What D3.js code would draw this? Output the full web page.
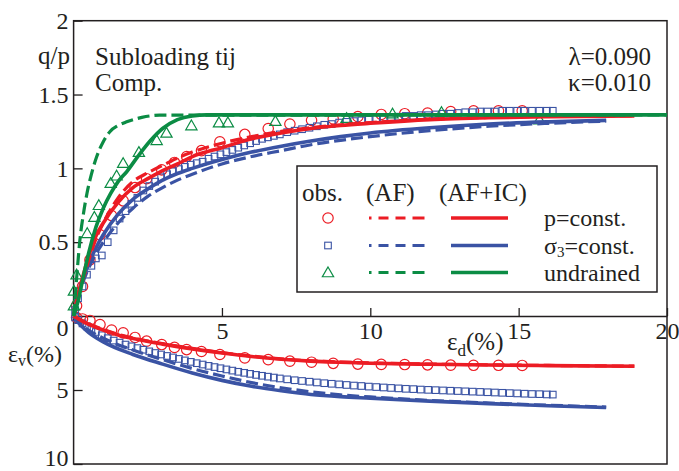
<!DOCTYPE html>
<html><head><meta charset="utf-8">
<script src="https://cdn.jsdelivr.net/npm/d3@7"></script>
<style>
body{margin:0;background:#fff}
svg{display:block}
svg text{fill:#231f20}
</style>
</head><body>
<svg id="c" width="679" height="471"></svg>
<script>
// ---------- tick labels ----------
const xTicks = [5, 10, 15, 20];
const qTicks = [0.5, 1, 1.5, 2];
const evTicks = [0, 5, 10];

// ---------- upper panel: q/p vs eps_d (%) ----------
const pConstAF_q   = [[0,0],[0.1,0.09],[0.25,0.2],[0.5,0.37],[0.75,0.52],[1,0.63],[1.5,0.8],[2,0.91],[2.5,0.97],[3,1.02],[3.5,1.07],[4,1.11],[5,1.17],[6,1.215],[7,1.25],[8,1.275],[9,1.295],[10,1.31],[12,1.333],[14,1.345],[16,1.352],[18.9,1.356]];
const pConstAFIC_q = [[0,0],[0.1,0.1],[0.25,0.22],[0.5,0.4],[0.75,0.54],[1,0.63],[1.5,0.77],[2,0.87],[2.5,0.93],[3,0.985],[3.5,1.03],[4,1.08],[5,1.14],[6,1.2],[7,1.24],[8,1.27],[9,1.29],[10,1.305],[12,1.33],[14,1.343],[16,1.35],[18.9,1.355]];
const s3ConstAF_q   = [[0,0],[0.1,0.09],[0.25,0.19],[0.5,0.32],[0.75,0.42],[1,0.5],[1.5,0.63],[2,0.73],[2.5,0.81],[3,0.87],[3.5,0.92],[4,0.96],[5,1.03],[6,1.08],[7,1.12],[8,1.16],[9,1.19],[10,1.215],[12,1.255],[14,1.285],[16,1.305],[17.95,1.32]];
const s3ConstAFIC_q = [[0,0],[0.1,0.1],[0.25,0.21],[0.5,0.35],[0.75,0.46],[1,0.55],[1.5,0.69],[2,0.79],[2.5,0.86],[3,0.92],[3.5,0.965],[4,1.0],[5,1.06],[6,1.11],[7,1.15],[8,1.185],[9,1.215],[10,1.24],[12,1.275],[14,1.3],[16,1.315],[17.95,1.325]];
const undrAF_q   = [[0,0],[0.05,0.12],[0.1,0.25],[0.21,0.51],[0.33,0.69],[0.45,0.83],[0.55,0.92],[0.78,1.08],[1,1.18],[1.23,1.25],[1.5,1.29],[1.79,1.315],[2.3,1.345],[2.9,1.36],[20,1.362]];
const undrAFIC_q = [[0,0],[0.15,0.1],[0.3,0.24],[0.5,0.42],[0.75,0.6],[1,0.73],[1.25,0.83],[1.5,0.91],[1.8,0.98],[2.2,1.09],[2.6,1.19],[3,1.27],[3.5,1.33],[4,1.355],[4.5,1.362],[20,1.362]];

// ---------- lower panel: eps_v (%) vs eps_d (%) ----------
const pConstAF_ev   = [[0,0],[0.1,0.11],[0.25,0.28],[0.5,0.52],[1,0.92],[1.5,1.24],[2,1.49],[3,1.87],[4,2.19],[5,2.47],[6,2.71],[7,2.9],[8,3.03],[9,3.11],[10,3.17],[12,3.25],[14,3.3],[16,3.34],[18.9,3.39]];
const pConstAFIC_ev = [[0,0],[0.1,0.12],[0.25,0.3],[0.5,0.55],[1,0.95],[1.5,1.28],[2,1.52],[3,1.9],[4,2.22],[5,2.5],[6,2.74],[7,2.92],[8,3.05],[9,3.13],[10,3.19],[12,3.26],[14,3.31],[16,3.35],[18.9,3.4]];
const s3ConstAF_ev   = [[0,0],[0.1,0.25],[0.25,0.55],[0.5,0.95],[1,1.5],[2,2.3],[3,2.95],[4,3.55],[5,4.05],[6,4.5],[7,4.85],[8,5.12],[9,5.33],[10,5.47],[12,5.7],[14,5.88],[16,6.03],[17.95,6.15]];
const s3ConstAFIC_ev = [[0,0],[0.1,0.3],[0.25,0.65],[0.5,1.1],[1,1.75],[2,2.6],[3,3.25],[4,3.85],[5,4.35],[6,4.75],[7,5.05],[8,5.3],[9,5.45],[10,5.55],[12,5.75],[14,5.92],[16,6.06],[17.95,6.18]];

// ---------- observations ----------
const obsP_ed = [0.1,0.3,0.55,0.89,1.28,1.67,2.07,2.46,2.97,3.4,3.81,4.31,4.93,5.77,6.56,7.29,8.02,8.75,9.58,10.37,11.16,11.93,12.71,13.48,14.32,15.12];
const obsP_q  = [0.07,0.2,0.38,0.55,0.68,0.78,0.87,0.93,0.99,1.04,1.08,1.12,1.18,1.23,1.27,1.3,1.325,1.335,1.35,1.365,1.37,1.375,1.385,1.39,1.39,1.39];
const obsP_ev = [0.1,0.2,0.3,0.58,0.95,1.14,1.45,1.7,1.93,2.12,2.27,2.4,2.6,2.83,2.95,3.05,3.12,3.2,3.25,3.27,3.28,3.3,3.32,3.33,3.33,3.34];

const obsS_ed = [0.05,0.15,0.3,0.45,0.6,0.75,0.95,1.15,1.35,1.55,1.75,1.95,2.15,2.35,2.55,2.75,2.95,3.15,3.35,3.55,3.75,3.95,4.15,4.35,4.55,4.75,4.95,5.15,5.35,5.55,5.75,5.95,6.15,6.35,6.55,6.75,6.95,7.2,7.45,7.7,7.95,8.2,8.45,8.7,8.95,9.2,9.45,9.7,9.95,10.2,10.45,10.7,10.95,11.2,11.45,11.7,11.95,12.2,12.45,12.7,12.95,13.2,13.45,13.7,13.95,14.2,14.45,14.7,14.95,15.2,15.45,15.7,15.95,16.15];
const obsS_q  = [0.04,0.12,0.2,0.28,0.34,0.39,0.41,0.5,0.58,0.66,0.71,0.76,0.8,0.85,0.88,0.91,0.94,0.96,0.98,0.995,1.01,1.025,1.035,1.045,1.065,1.08,1.095,1.11,1.125,1.14,1.155,1.17,1.185,1.2,1.21,1.22,1.23,1.245,1.255,1.265,1.275,1.285,1.295,1.3,1.31,1.315,1.32,1.325,1.33,1.335,1.34,1.345,1.35,1.355,1.355,1.36,1.36,1.365,1.37,1.37,1.375,1.38,1.38,1.385,1.385,1.385,1.39,1.39,1.39,1.39,1.39,1.39,1.39,1.39];
const obsS_ev = [0.1,0.28,0.5,0.7,0.9,1.08,1.3,1.5,1.66,1.8,1.93,2.05,2.17,2.28,2.39,2.5,2.6,2.7,2.8,2.9,3.0,3.1,3.19,3.28,3.37,3.45,3.53,3.61,3.69,3.77,3.84,3.91,3.98,4.04,4.1,4.16,4.22,4.28,4.34,4.39,4.44,4.49,4.54,4.58,4.62,4.66,4.7,4.73,4.77,4.8,4.83,4.86,4.89,4.92,4.94,4.97,4.99,5.01,5.03,5.05,5.07,5.09,5.11,5.13,5.15,5.17,5.19,5.21,5.23,5.25,5.27,5.28,5.3,5.31];

const obsU_ed = [0.01,0.01,0.1,0.46,0.7,0.85,1.25,1.45,1.67,2.2,2.8,3.13,3.97,4.9,5.2,6.8,9.2,10.75,12.4,15.7];
const obsU_q  = [0.07,0.17,0.28,0.56,0.67,0.75,0.9,0.95,1.035,1.11,1.19,1.24,1.29,1.31,1.31,1.32,1.34,1.37,1.38,1.33];

// ---------- colours ----------
const RED = "#ec1c24", BLUE = "#3a53a4", GREEN = "#0b8c44", INK = "#231f20";
const FONT = '"Liberation Serif","Tinos","DejaVu Serif","Noto Serif",serif';

const svg = d3.select("#c");
const x  = d3.scaleLinear().domain([0, 20]).range([73.6, 667]);
const yq = d3.scaleLinear().domain([0, 2]).range([316, 20.7]);
const yv = d3.scaleLinear().domain([0, 10]).range([316, 464]);

// frame
svg.append("rect").attr("x", x(0)).attr("y", yq(2)).attr("width", x(20) - x(0)).attr("height", yv(10) - yq(2))
  .attr("fill", "none").attr("stroke", INK).attr("stroke-width", 1.5);

// axes
const fmt = d => String(d);
const gx = svg.append("g").attr("transform", `translate(0,${yq(0)})`)
  .call(d3.axisBottom(x).tickValues(xTicks).tickFormat(fmt).tickSizeInner(-8).tickSizeOuter(0).tickPadding(6));
const gq = svg.append("g").attr("transform", `translate(${x(0)},0)`)
  .call(d3.axisLeft(yq).tickValues(qTicks).tickFormat(fmt).tickSizeInner(-9).tickSizeOuter(0).tickPadding(5));
const gv = svg.append("g").attr("transform", `translate(${x(0)},0)`)
  .call(d3.axisLeft(yv).tickValues(evTicks).tickFormat(fmt).tickSizeInner(-9).tickSizeOuter(0).tickPadding(5));
[gx, gq, gv].forEach(g => {
  g.attr("font-family", FONT).attr("font-size", 24);
  g.select(".domain").attr("stroke", INK).attr("stroke-width", 1.5);
  g.selectAll(".tick line").attr("stroke", INK).attr("stroke-width", 1.3);
  g.selectAll(".tick text").attr("fill", INK);
});
gq.select(".domain").remove();
gv.select(".domain").remove();
gv.selectAll(".tick").filter(d => d === 0).select("text").attr("dy", "0.82em");
gv.selectAll(".tick").filter(d => d === 10).select("text").attr("dy", "0.05em");

// curves
const lineQ = d3.line().x(d => x(d[0])).y(d => yq(d[1])).curve(d3.curveMonotoneX);
const lineV = d3.line().x(d => x(d[0])).y(d => yv(d[1])).curve(d3.curveMonotoneX);
const DASH = "12,5";
function curve(data, gen, color, dashed) {
  svg.append("path").attr("d", gen(data)).attr("fill", "none").attr("stroke", color)
    .attr("stroke-width", dashed ? 3.2 : 3.6).attr("stroke-dasharray", dashed ? DASH : null)
    .attr("stroke-linecap", "butt");
}

// markers
function circles(xs, ys, sy) {
  svg.append("g").selectAll("circle").data(xs).join("circle")
    .attr("cx", d => x(d)).attr("cy", (d, i) => sy(ys[i])).attr("r", 5.2)
    .attr("fill", "none").attr("stroke", RED).attr("stroke-width", 1.2);
}
function squares(xs, ys, sy) {
  svg.append("g").selectAll("rect").data(xs).join("rect")
    .attr("x", d => x(d) - 3.3).attr("y", (d, i) => sy(ys[i]) - 3.3).attr("width", 6.6).attr("height", 6.6)
    .attr("fill", "none").attr("stroke", BLUE).attr("stroke-width", 1.1);
}
const triPath = d3.symbol().type(d3.symbolTriangle).size(55);
function triangles(xs, ys, sy) {
  svg.append("g").selectAll("path").data(xs).join("path")
    .attr("d", triPath).attr("transform", (d, i) => `translate(${x(d)},${sy(ys[i]) + 1})`)
    .attr("fill", "none").attr("stroke", GREEN).attr("stroke-width", 1.2);
}

circles(obsP_ed, obsP_q, yq);
circles(obsP_ed, obsP_ev, yv);
squares(obsS_ed, obsS_q, yq);
squares(obsS_ed, obsS_ev, yv);
triangles(obsU_ed, obsU_q, yq);

curve(s3ConstAF_ev, lineV, BLUE, true);
curve(s3ConstAFIC_ev, lineV, BLUE, false);
curve(pConstAF_ev, lineV, RED, true);
curve(pConstAFIC_ev, lineV, RED, false);
curve(s3ConstAF_q, lineQ, BLUE, true);
curve(s3ConstAFIC_q, lineQ, BLUE, false);
curve(pConstAF_q, lineQ, RED, true);
curve(pConstAFIC_q, lineQ, RED, false);
curve(undrAF_q, lineQ, GREEN, true);
curve(undrAFIC_q, lineQ, GREEN, false);

// annotations
const T = (tx, ty, s, anchor, size) => svg.append("text").attr("x", tx).attr("y", ty)
  .attr("font-family", FONT).attr("font-size", size || 25).attr("text-anchor", anchor || "start").text(s);
T(70, 64, "q/p", "end");
T(95, 65, "Subloading tij");
T(95, 91, "Comp.");
T(651, 65, "λ=0.090", "end");
T(651, 91, "κ=0.010", "end");

const ev = svg.append("text").attr("x", 8).attr("y", 362).attr("font-family", FONT).attr("font-size", 24);
ev.append("tspan").text("ε");
ev.append("tspan").attr("font-size", 16).attr("dy", 4).text("v");
ev.append("tspan").attr("dy", -4).text("(%)");
const ed = svg.append("text").attr("x", 447).attr("y", 350).attr("font-family", FONT).attr("font-size", 25);
ed.append("tspan").text("ε");
ed.append("tspan").attr("font-size", 17).attr("dy", 6).text("d");
ed.append("tspan").attr("dy", -6).text("(%)");

// legend
svg.append("rect").attr("x", 297).attr("y", 166).attr("width", 360).attr("height", 126)
  .attr("fill", "#fff").attr("stroke", INK).attr("stroke-width", 1.5);
T(302, 201, "obs.");
T(366, 201, "(AF)");
T(439, 201, "(AF+IC)");
const legendLabels = ["p=const.", "σ3=const.", "undrained"];
const legendColors = [RED, BLUE, GREEN];
const rowY = [218, 245.5, 272.5];
legendLabels.forEach((lab, i) => {
  const ry = rowY[i], c = legendColors[i];
  svg.append("line").attr("x1", 369).attr("x2", 427).attr("y1", ry).attr("y2", ry)
    .attr("stroke", c).attr("stroke-width", 3.2).attr("stroke-dasharray", "2.5,7,10,7,10,7,12");
  svg.append("line").attr("x1", 451).attr("x2", 508).attr("y1", ry).attr("y2", ry)
    .attr("stroke", c).attr("stroke-width", 3.6);
  const t = svg.append("text").attr("x", 544).attr("y", ry + 8).attr("font-family", FONT).attr("font-size", 24);
  if (i === 1) {
    t.append("tspan").text("σ");
    t.append("tspan").attr("font-size", 15).attr("dy", 3).text("3");
    t.append("tspan").attr("dy", -3).text("=const.");
  } else t.text(lab);
});
svg.append("circle").attr("cx", 328).attr("cy", rowY[0]).attr("r", 5.2).attr("fill", "none").attr("stroke", RED).attr("stroke-width", 1.2);
svg.append("rect").attr("x", 324.7).attr("y", rowY[1] - 3.3).attr("width", 6.6).attr("height", 6.6).attr("fill", "none").attr("stroke", BLUE).attr("stroke-width", 1.1);
svg.append("path").attr("d", triPath).attr("transform", `translate(328,${rowY[2] + 1})`).attr("fill", "none").attr("stroke", GREEN).attr("stroke-width", 1.2);
</script>
</body></html>
